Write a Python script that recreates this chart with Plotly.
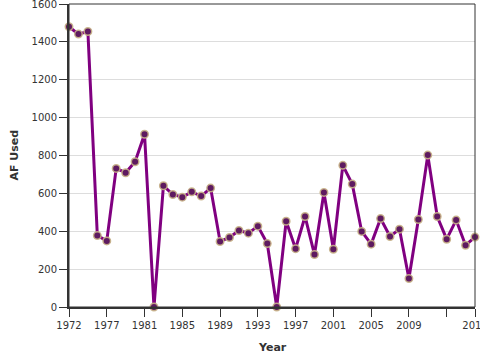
import plotly.graph_objects as go

years = list(range(1973, 2017))
af_used = [1480, 1441, 1455, 377, 349, 732, 709, 767, 912, 0,
           640, 594, 580, 608, 586, 628, 346, 367, 404, 390,
           427, 335, 0, 453, 308, 478, 277, 605, 305, 748,
           649, 399, 332, 467, 372, 411, 150, 462, 802, 478,
           358, 459, 326, 369]

tick_vals = [1973, 1977, 1981, 1985, 1989, 1993, 1997, 2001, 2005, 2009, 2013, 2016]
tick_text = ["1972", "1977", "1981", "1985", "1989", "1993", "1997", "2001", "2005", "2009", "", "2016"]
y_ticks = [0, 200, 400, 600, 800, 1000, 1200, 1400, 1600]

fig = go.Figure()
fig.add_trace(go.Scatter(
    x=years, y=af_used, mode="lines+markers",
    line=dict(color="#800080", width=3),
    marker=dict(size=7.5, color="#5e1a60",
                line=dict(color="rgba(200,178,135,0.9)", width=1.5)),
    cliponaxis=False, showlegend=False,
))

tick_font = dict(family="DejaVu Sans", size=10, color="#333")
fig.update_layout(
    width=480, height=360,
    margin=dict(l=69, r=5, t=4, b=53),
    paper_bgcolor="white", plot_bgcolor="white",
    xaxis=dict(range=[1973, 2016], tickvals=tick_vals, ticktext=tick_text,
               showgrid=False, zeroline=False, showline=True, linecolor="#333",
               linewidth=2, ticks="outside", ticklen=8, tickcolor="#333",
               tickfont=tick_font, automargin=False, ticklabeloverflow="allow"),
    yaxis=dict(range=[0, 1600], tickvals=y_ticks, showgrid=True,
               gridcolor="#ddd", gridwidth=1, zeroline=False, showline=True,
               linecolor="#333", linewidth=2, ticks="outside", ticklen=8,
               tickcolor="#333", tickfont=tick_font, automargin=False,
               ticklabeloverflow="allow"),
    shapes=[dict(type="rect", xref="paper", yref="paper", x0=0, y0=0, x1=1, y1=1,
                 line=dict(color="#333", width=1), layer="above")],
    annotations=[
        dict(text="<b>Year</b>", xref="paper", yref="paper", x=0.5, y=0,
             yshift=-40, showarrow=False, yanchor="middle",
             font=dict(family="DejaVu Sans", size=11, color="#333")),
        dict(text="<b>AF Used</b>", xref="paper", yref="paper", x=0, y=0.5,
             xshift=-55, textangle=-90, showarrow=False, xanchor="center",
             font=dict(family="DejaVu Sans", size=11, color="#333")),
    ],
)

fig.write_html("out.html", config={"displayModeBar": False},
               post_script="document.body.style.margin='0px';")
